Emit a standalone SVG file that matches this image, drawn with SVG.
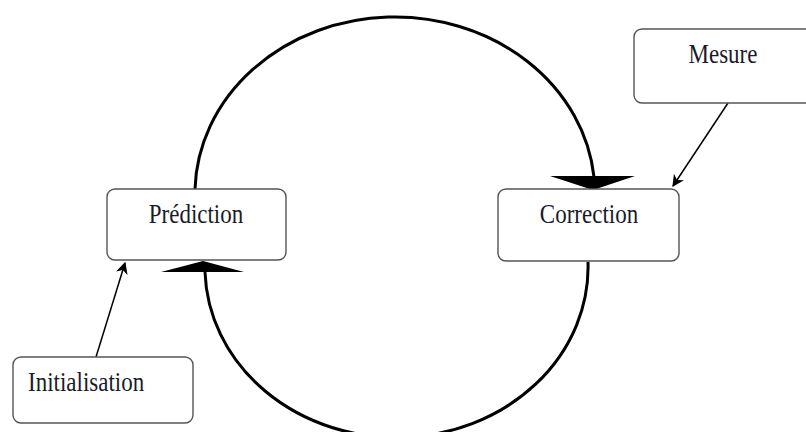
<svg xmlns="http://www.w3.org/2000/svg" width="806" height="432" viewBox="0 0 806 432">
<defs>
<style>
.box{fill:#fff;stroke:#555;stroke-width:1.4}
.lbl{font-family:"Liberation Serif","DejaVu Serif",serif;font-size:23px;fill:#1a1a2a}
.arc{fill:none;stroke:#000;stroke-width:3}
.thin{fill:none;stroke:#000;stroke-width:1.5}
</style>
<marker id="ah" viewBox="0 0 10 10" refX="9" refY="5" markerWidth="12" markerHeight="12" markerUnits="userSpaceOnUse" orient="auto">
<path d="M0,0 L10,5 L0,10 L3,5 Z" fill="#000"/>
</marker>
</defs>
<rect width="806" height="432" fill="#fff"/>
<g id="connectors">
<path class="arc" d="M195,189 A200,177 0 0 1 594,177"/>
<path class="arc" d="M205,272 A191,170 0 0 0 588,262"/>
<polygon points="550,176 635,176 593,190" fill="#000"/>
<polygon points="161,272 244,272 203,261" fill="#000"/>
<line class="thin" x1="728" y1="103" x2="673" y2="186" marker-end="url(#ah)"/>
<line class="thin" x1="96" y1="357" x2="125" y2="263" marker-end="url(#ah)"/>
</g>
<g id="prediction">
<rect class="box" x="107" y="189" width="179" height="71" rx="8"/>
<text class="lbl" transform="translate(196,223) scale(1,1.15)" text-anchor="middle">Prédiction</text>
</g>
<g id="correction">
<rect class="box" x="498" y="189" width="181" height="72" rx="8"/>
<text class="lbl" transform="translate(589,223) scale(1,1.15)" text-anchor="middle">Correction</text>
</g>
<g id="mesure">
<rect class="box" x="634" y="29" width="180" height="74" rx="8"/>
<text class="lbl" transform="translate(723,63) scale(1,1.15)" text-anchor="middle">Mesure</text>
</g>
<g id="initialisation">
<rect class="box" x="13" y="357" width="180" height="66" rx="8"/>
<text class="lbl" transform="translate(28,391) scale(1,1.15)">Initialisation</text>
</g>
</svg>
